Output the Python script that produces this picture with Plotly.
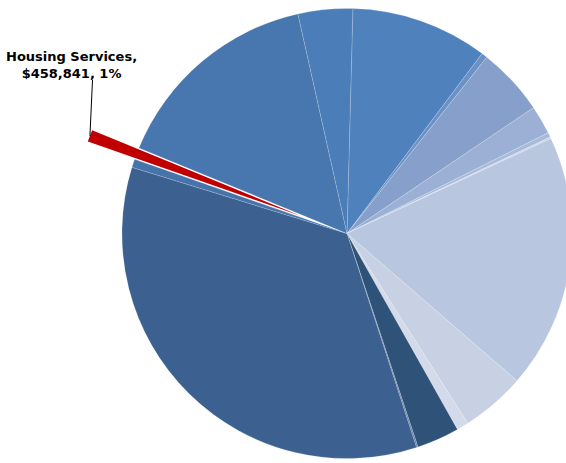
import math
import plotly.graph_objects as go

# Budget by service area, clockwise from the top of the pie
labels = [
    "Service A", "Service B", "Service C", "Service D", "Service E",
    "Service F", "Service G", "Service H", "Service I", "Service J",
    "Service K", "Service L", "Service M", "Housing Services",
    "Service O", "Service P",
]
values = [
    5240000, 222000, 2605000, 1095000, 178000,
    59000, 9754000, 2457000, 459000, 1628000,
    59000, 18516000, 318000, 458841,
    8148000, 2087000,
]
colors = [
    "#4F81BD", "#6B92C7", "#87A0CB", "#9BB0D4", "#A9BBDA",
    "#C9D4E8", "#B8C6E0", "#C7D1E3", "#D3DBEA", "#2F5279",
    "#5E7FA6", "#3C6190", "#4673AA", "#C00000",
    "#4876AE", "#4B7DB8",
]
highlight = "Housing Services"

# Geometry of the page (pixels)
CX, CY = 347, 233.5      # pie centre on the visible page
R = 225                  # pie radius
PULL_PX = 50             # how far the highlighted slice is exploded
ROTATION = 1.5           # start angle of the first slice, degrees clockwise

pull_frac = PULL_PX / R
half = R * (1 + pull_frac)
SHIFT = math.ceil(half - CY)          # page content above the viewport top
W = math.ceil(CX + half) + 1
H = math.ceil(CY + SHIFT + half)

hi = labels.index(highlight)
pulls = [pull_frac if i == hi else 0 for i in range(len(values))]
line_w = [0 if i == hi else 0.6 for i in range(len(values))]

dom_x = [max(0, (CX - half) / W), min(1, (CX + half) / W)]
dom_y = [max(0, 1 - (CY + SHIFT + half) / H), min(1, 1 - (CY + SHIFT - half) / H)]

fig = go.Figure(go.Pie(
    labels=labels,
    values=values,
    sort=False,
    direction="clockwise",
    rotation=ROTATION,
    pull=pulls,
    marker=dict(colors=colors,
                line=dict(color="rgba(255,255,255,0.28)", width=line_w)),
    textinfo="none",
    hoverinfo="label+value+percent",
    showlegend=False,
    domain=dict(x=dom_x, y=dom_y),
))

# Callout for the highlighted slice
total = sum(values)
theta = math.radians(ROTATION + 360 * (sum(values[:hi]) + values[hi] / 2) / total)
tip_x = CX + (R + PULL_PX) * math.sin(theta)
tip_y = CY - (R + PULL_PX) * math.cos(theta)

def px(x):
    return x / W

def py(y):
    return 1 - (y + SHIFT) / H

pct = round(100 * values[hi] / total)
label_text = f"<b>{highlight},</b><br><b>${values[hi]:,}, {pct}%</b>"

fig.add_annotation(
    x=px(71.5), y=py(65.5), xref="paper", yref="paper",
    text=label_text, showarrow=False, xanchor="center", yanchor="middle",
    align="center",
    font=dict(family="Verdana, DejaVu Sans, sans-serif", size=13, color="#000000"),
)
fig.add_shape(
    type="line", xref="paper", yref="paper",
    x0=px(92.5), y0=py(80), x1=px(tip_x), y1=py(tip_y),
    line=dict(color="#000000", width=1),
)

fig.update_layout(
    width=W, height=H,
    margin=dict(l=0, r=0, t=0, b=0),
    paper_bgcolor="white", plot_bgcolor="white",
)

post = (
    "var gd=document.getElementById('{plot_id}');"
    "gd.style.position='relative';"
    "gd.style.top='-%dpx';"
    "document.documentElement.style.overflow='hidden';"
    "document.body.style.overflow='hidden';"
    "document.body.style.margin='0';" % SHIFT
)

fig.write_html("out.html", post_script=post)
